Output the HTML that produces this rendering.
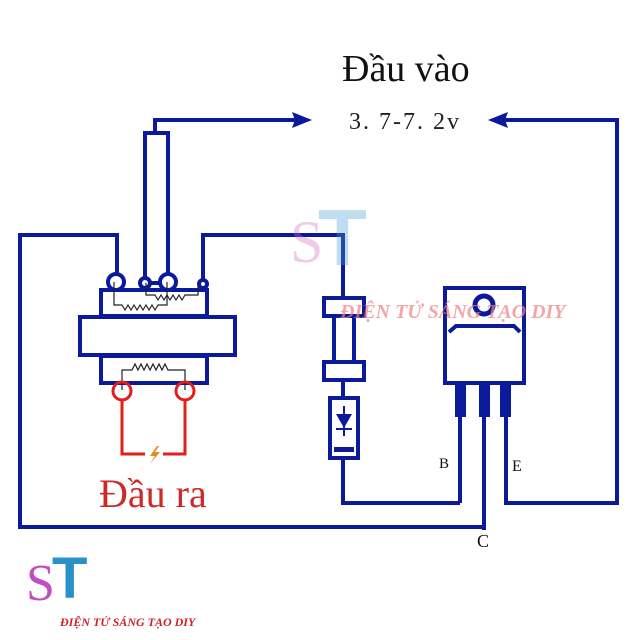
<!DOCTYPE html>
<html><head><meta charset="utf-8"><style>
html,body{margin:0;padding:0;background:#fff;width:640px;height:640px;overflow:hidden}
svg{display:block}
</style></head><body>
<svg width="640" height="640" viewBox="0 0 640 640" xmlns="http://www.w3.org/2000/svg">
<rect width="640" height="640" fill="#fff"/>
<g fill="none" stroke="#0a1a9a" stroke-width="4">
<polyline points="155,133 155,120 295,120"/>
<rect x="145" y="133" width="23" height="150"/>
<polyline points="117,280 117,235 20,235 20,527 483,527"/>
<polyline points="203,280 203,235 343,235 343,298"/>
<rect x="101" y="290" width="106" height="26"/>
<rect x="80" y="317" width="155" height="38"/>
<rect x="101" y="356" width="106" height="27"/>
<rect x="324" y="298" width="40" height="18"/>
<rect x="334" y="316" width="20" height="46"/>
<rect x="324" y="362" width="40" height="18"/>
<line x1="343" y1="380" x2="343" y2="398"/>
<rect x="330" y="398" width="28" height="60"/>
<polyline points="343,458 343,503 460,503"/>
<rect x="445" y="288" width="79" height="95"/>
<circle cx="484" cy="305" r="9" stroke-width="5"/>
<polyline points="449,332 456,326 514,326 520,332"/>
<line x1="484" y1="383" x2="484" y2="530"/>
<line x1="460" y1="383" x2="460" y2="503"/>
<polyline points="506,383 506,503 617,503 617,120 500,120"/>
</g>
<g fill="#0a1a9a">
<rect x="455" y="383" width="11" height="34"/>
<rect x="479" y="383" width="11" height="34"/>
<rect x="500" y="383" width="11" height="34"/>
<rect x="334" y="447" width="20" height="5"/>
<polygon points="312,120 292,112 295,120 292,128"/>
<polygon points="488,120 508,112 505,120 508,128"/>
<polygon points="336,414 352,414 344,428"/>
<rect x="336" y="428" width="16" height="2"/>
<rect x="343" y="406" width="2" height="30"/>
</g>
<g fill="#fff" stroke="#0a1a9a" stroke-width="4">
<circle cx="116" cy="282" r="8"/>
<circle cx="145" cy="283" r="5"/>
<circle cx="168" cy="282" r="8"/>
<circle cx="203" cy="284" r="4"/>
</g>
<g fill="none" stroke="#222" stroke-width="1.2">
<polyline points="114,282 114,305 122,305 125,310 128,305 131,310 134,305 137,310 140,305 143,310 146,305 149,310 152,305 155,310 158,305 167,305 167,282"/>
<polyline points="146,283 146,295 155,295 158,300 161,295 164,300 167,295 170,300 173,295 176,300 179,295 182,300 185,295 198,295 198,284"/>
<polyline points="122,390 122,370 132,370 135,364 138,370 141,364 144,370 147,364 150,370 153,364 156,370 159,364 162,370 165,364 168,370 185,370 185,390"/>
</g>
<g fill="none" stroke="#e0201a" stroke-width="3">
<circle cx="122" cy="391" r="9"/>
<circle cx="185" cy="391" r="9"/>
<polyline points="122,400 122,454 145,454"/>
<polyline points="185,400 185,454 163,454"/>
</g>
<polygon points="157,446 150,456 155,456 150,464 160,452 155,452 159,446" fill="#e08a20"/>
<g opacity="0.35">
<text x="290" y="262" font-family="Liberation Serif,serif" font-size="60" fill="#d070c0">S</text>
<text x="318" y="265" font-family="Liberation Sans,sans-serif" font-weight="bold" font-size="80" fill="#4aa0d0">T</text>
</g>
<text x="340" y="318" font-family="Liberation Serif,serif" font-style="italic" font-weight="bold" font-size="20" fill="#f08080" opacity="0.7">ĐIỆN TỬ SÁNG TẠO DIY</text>
<text x="26" y="600" font-family="Liberation Serif,serif" font-size="52" fill="#c050c0">S</text>
<text x="52" y="598" font-family="Liberation Sans,sans-serif" font-weight="bold" font-size="58" fill="#2a90c8">T</text>
<text x="60" y="626" font-family="Liberation Serif,serif" font-style="italic" font-weight="bold" font-size="12" fill="#d0202a">ĐIỆN TỬ SÁNG TẠO DIY</text>
<text x="342" y="81" font-family="Liberation Serif,serif" font-size="38" fill="#111">Đầu vào</text>
<text x="349" y="129" font-family="Liberation Serif,serif" font-size="24" fill="#222" letter-spacing="2">3. 7-7. 2v</text>
<text x="99" y="507" font-family="Liberation Serif,serif" font-size="40" fill="#d02828">Đầu ra</text>
<text x="439" y="468" font-family="Liberation Serif,serif" font-size="15" fill="#111">B</text>
<text x="512" y="471" font-family="Liberation Serif,serif" font-size="16" fill="#111">E</text>
<text x="477" y="547" font-family="Liberation Serif,serif" font-size="18" fill="#111">C</text>
</svg>
</body></html>
